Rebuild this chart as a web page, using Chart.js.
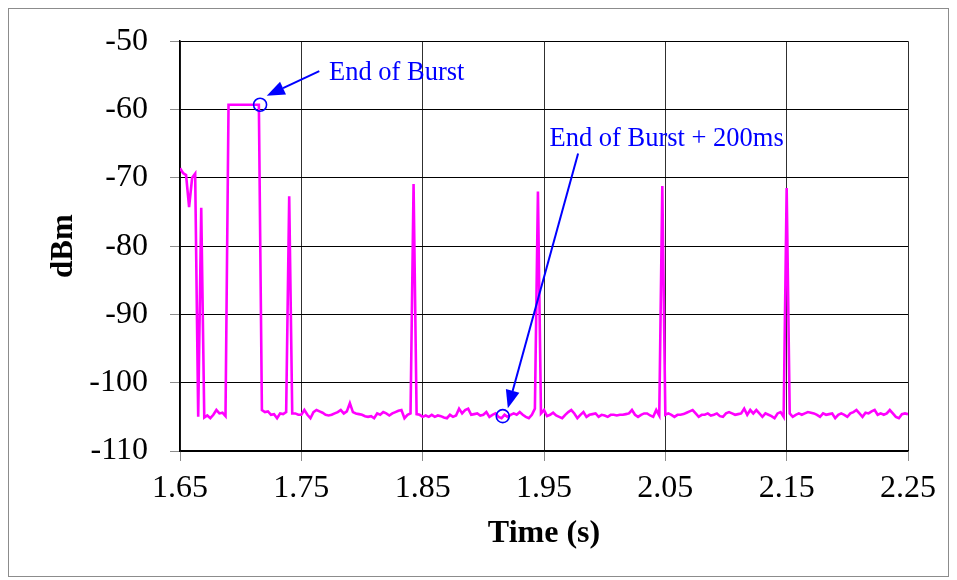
<!DOCTYPE html>
<html>
<head>
<meta charset="utf-8">
<script src="https://cdn.jsdelivr.net/npm/chart.js@4.4.1/dist/chart.umd.min.js"></script>
<style>
  html, body { margin: 0; padding: 0; background: #fff; }
  canvas { display: block; }
</style>
</head>
<body>
<canvas id="chart" width="957" height="580"></canvas>
<script>
// Received power trace, one reading every 2.5 ms starting at 1.65 s
const startTime = 1.65;
const sampleInterval = 0.0025;
const powerDbm = [
  -68.6, -69.3, -69.6, -74.3, -70.0, -69.4, -105.0, -74.4, -105.1, -104.8,
  -105.2, -104.7, -104.0, -104.5, -104.4, -104.9, -59.3, -59.3, -59.3, -59.3,
  -59.3, -59.3, -59.3, -59.3, -59.3, -59.3, -59.3, -104.0, -104.3, -104.2,
  -104.7, -104.6, -105.2, -104.5, -104.6, -104.3, -72.7, -104.5, -104.5, -104.7,
  -104.7, -104.0, -104.7, -105.2, -104.3, -104.0, -104.2, -104.4, -104.7, -104.8,
  -104.7, -104.5, -104.3, -104.0, -104.5, -104.2, -103.0, -104.3, -104.5, -104.6,
  -104.7, -104.9, -105.0, -104.9, -105.2, -104.5, -104.7, -104.3, -104.5, -104.8,
  -104.5, -104.3, -104.1, -104.0, -105.2, -104.7, -104.5, -70.9, -104.6, -104.7,
  -105.0, -104.8, -105.0, -104.7, -105.0, -104.8, -104.9, -105.1, -105.2, -104.7,
  -105.0, -104.8, -103.8, -104.5, -104.0, -103.8, -104.7, -104.6, -104.5, -104.8,
  -104.7, -104.3, -105.0, -104.7, -104.5, -105.0, -105.2, -104.7, -105.0, -104.7,
  -104.5, -104.7, -104.3, -104.7, -105.0, -105.2, -104.7, -103.8, -72.0, -104.5,
  -104.0, -104.9, -104.7, -104.4, -104.8, -105.0, -105.2, -104.7, -104.3, -104.0,
  -104.5, -105.2, -104.7, -104.3, -105.0, -104.7, -104.6, -104.5, -105.0, -104.7,
  -104.8, -105.0, -104.7, -104.7, -104.8, -104.7, -104.7, -104.6, -104.5, -104.0,
  -104.7, -105.0, -104.7, -104.5, -104.5, -104.8, -105.0, -104.0, -104.8, -71.2,
  -104.7, -104.5, -104.7, -105.0, -104.7, -104.7, -104.6, -104.4, -104.2, -104.0,
  -104.5, -105.0, -104.7, -104.7, -104.5, -104.8, -104.7, -104.5, -104.9, -105.0,
  -104.5, -104.3, -104.5, -104.7, -104.6, -104.5, -103.8, -104.7, -104.0, -104.5,
  -104.0, -104.5, -105.0, -104.5, -104.7, -104.9, -105.2, -104.5, -104.3, -105.0,
  -71.5, -104.5, -105.0, -104.7, -104.5, -104.7, -104.5, -104.3, -104.4, -104.5,
  -104.7, -105.0, -104.5, -104.7, -104.6, -104.5, -105.2, -104.7, -104.5, -104.7,
  -105.0, -104.5, -104.3, -104.0, -104.5, -105.0, -104.4, -104.5, -104.2, -104.0,
  -104.7, -104.5, -104.7, -104.5, -104.0, -104.5, -105.0, -105.2, -104.6, -104.5,
  -104.6
];

// Axis tick values
const timeTicks = [1.65, 1.75, 1.85, 1.95, 2.05, 2.15, 2.25];
const levelTicks = [-110, -100, -90, -80, -70, -60, -50];

// Marked instants: end of the burst and 200 ms later
const markedTimes = [1.716, 1.916];
const markedLevels = [-59.3, -104.9];
const calloutTexts = ['End of Burst', 'End of Burst + 200ms'];

// Callout placement in data units (label anchor, arrow tail, arrow head)
const calloutLayout = [
  { label: [1.7728, -55.68], tail: [1.7648, -54.37], head: [1.7215, -58.0] },
  { label: [1.9545, -65.33], tail: [1.9781, -66.45], head: [1.9202, -103.75] }
];

const points = powerDbm.map((v, i) => ({ x: startTime + i * sampleInterval, y: v }));

const SERIF = '"Liberation Serif", "Times New Roman", serif';

const framePlugin = {
  id: 'frame',
  beforeDraw(chart) {
    const ctx = chart.ctx;
    ctx.save();
    ctx.fillStyle = '#fff';
    ctx.fillRect(0, 0, chart.width, chart.height);
    ctx.strokeStyle = '#8c8c8c';
    ctx.lineWidth = 1;
    ctx.strokeRect(8.5, 8.5, 940, 568);
    ctx.restore();
  }
};

const calloutPlugin = {
  id: 'callouts',
  afterDatasetsDraw(chart) {
    const { ctx, scales: { x, y } } = chart;
    ctx.save();
    ctx.strokeStyle = '#0000ff';
    ctx.fillStyle = '#0000ff';
    // circles around marked samples
    markedTimes.forEach((t, i) => {
      ctx.beginPath();
      ctx.lineWidth = 1.6;
      ctx.arc(x.getPixelForValue(t), y.getPixelForValue(markedLevels[i]), 6.5, 0, Math.PI * 2);
      ctx.stroke();
    });
    // arrows and labels
    calloutLayout.forEach((c, i) => {
      const tx = x.getPixelForValue(c.tail[0]), ty = y.getPixelForValue(c.tail[1]);
      const hx = x.getPixelForValue(c.head[0]), hy = y.getPixelForValue(c.head[1]);
      const ang = Math.atan2(hy - ty, hx - tx);
      const headLen = 18, headHalf = 7;
      const bx = hx - headLen * Math.cos(ang), by = hy - headLen * Math.sin(ang);
      ctx.lineWidth = 2;
      ctx.beginPath();
      ctx.moveTo(tx, ty);
      ctx.lineTo(bx, by);
      ctx.stroke();
      ctx.beginPath();
      ctx.moveTo(hx, hy);
      ctx.lineTo(bx + headHalf * Math.sin(ang), by - headHalf * Math.cos(ang));
      ctx.lineTo(bx - headHalf * Math.sin(ang), by + headHalf * Math.cos(ang));
      ctx.closePath();
      ctx.fill();
      ctx.font = '26.5px ' + SERIF;
      ctx.textAlign = 'left';
      ctx.textBaseline = 'alphabetic';
      ctx.fillText(calloutTexts[i], x.getPixelForValue(c.label[0]), y.getPixelForValue(c.label[1]));
    });
    ctx.restore();
  }
};

new Chart(document.getElementById('chart'), {
  type: 'line',
  data: {
    datasets: [{
      data: points,
      borderColor: '#ff00ff',
      borderWidth: 2.6,
      pointRadius: 0,
      tension: 0,
      fill: false
    }]
  },
  options: {
    responsive: false,
    animation: false,
    devicePixelRatio: 1,
    layout: { padding: { left: 0, top: 39, right: 49, bottom: 0 } },
    plugins: { legend: { display: false }, tooltip: { enabled: false } },
    scales: {
      x: {
        type: 'linear',
        min: 1.65,
        max: 2.25,
        afterBuildTicks(scale) { scale.ticks = timeTicks.map(v => ({ value: v })); },
        afterFit(scale) { scale.height = 129; },
        ticks: {
          color: '#000',
          font: { family: SERIF, size: 32 },
          padding: 8,
          maxRotation: 0,
          callback: v => v.toFixed(2)
        },
        grid: { color: '#303030', lineWidth: 1, tickColor: '#8c8c8c', tickLength: 10 },
        border: { color: '#000', width: 1.5 },
        title: {
          display: true,
          text: 'Time (s)',
          color: '#000',
          font: { family: SERIF, size: 32, weight: 'bold' },
          padding: { top: 0, bottom: 27 }
        }
      },
      y: {
        min: -110,
        max: -50,
        afterBuildTicks(scale) { scale.ticks = levelTicks.map(v => ({ value: v })); },
        afterFit(scale) { scale.width = 180; },
        ticks: {
          color: '#000',
          font: { family: SERIF, size: 32 },
          padding: 22
        },
        grid: { color: '#000', lineWidth: 1, tickColor: '#8c8c8c', tickLength: 10 },
        border: { color: '#000', width: 1.5 },
        title: {
          display: true,
          text: 'dBm',
          color: '#000',
          font: { family: SERIF, size: 31, weight: 'bold' },
          padding: { top: 45, bottom: 0 }
        }
      }
    }
  },
  plugins: [framePlugin, calloutPlugin]
});
</script>
</body>
</html>
